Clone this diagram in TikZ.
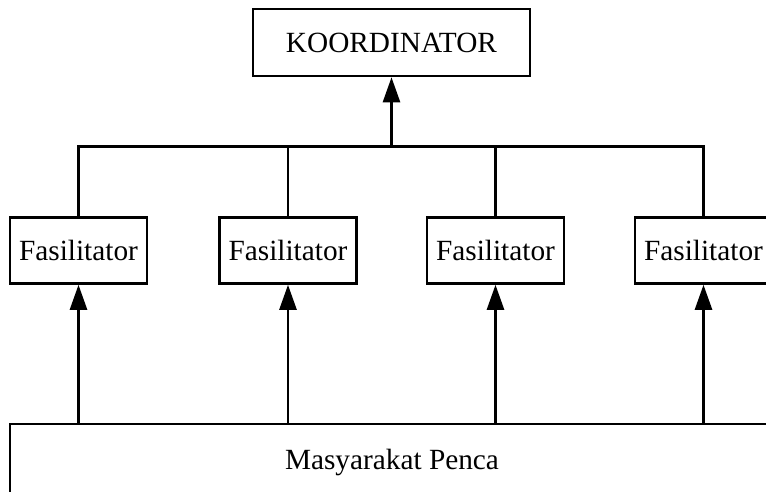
\documentclass[tikz,border=0pt]{standalone}
\usepackage{fontspec}
\setmainfont{Liberation Serif}
\usetikzlibrary{arrows.meta}
\begin{document}
\begin{tikzpicture}[x=1pt,y=1pt,
  box/.style={draw,line width=2.6pt,inner sep=0pt,font=\fontsize{29.3}{31}\selectfont},
  fbox/.style={box,minimum width=137pt,minimum height=66pt},
  conn/.style={line width=2.6pt},
  arr/.style={conn,-{Triangle[width=17pt,length=25pt]}}]
\useasboundingbox (0,0) rectangle (766,-492);
\node[box,minimum width=277pt,minimum height=67pt] (k) at (391.5,-42.5) {KOORDINATOR};
\node[fbox] (f1) at (78.5,-250.5) {Fasilitator};
\node[fbox] (f2) at (288,-250.5) {Fasilitator};
\node[fbox] (f3) at (495.5,-250.5) {Fasilitator};
\node[fbox] (f4) at (703.5,-250.5) {Fasilitator};
\node[box,minimum width=764pt,minimum height=76pt] (m) at (392,-462) {Masyarakat Penca};
\coordinate (bus) at (391.5,-146.5);
\draw[conn] (f1.north) |- (bus) -| (f4.north);
\draw[conn] (f2.north) -- (f2.north |- bus);
\draw[conn] (f3.north) -- (f3.north |- bus);
\draw[arr] (bus) -- (k.south);
\foreach \f in {f1,f2,f3,f4}{
  \draw[arr] (\f.south |- m.north) -- (\f.south);
}
\end{tikzpicture}
\end{document}
